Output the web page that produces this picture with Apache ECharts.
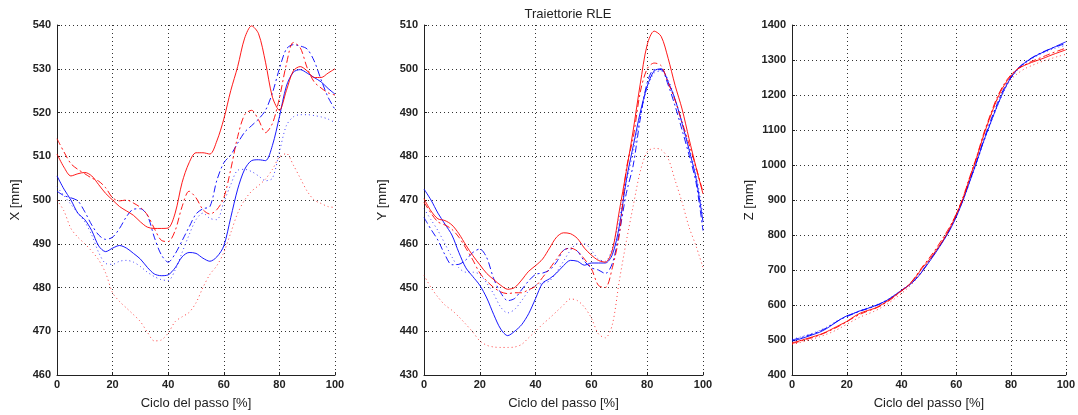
<!DOCTYPE html>
<html>
<head>
<meta charset="utf-8">
<script src="https://cdn.jsdelivr.net/npm/echarts@6/dist/echarts.min.js"></script>
<style>
html,body{margin:0;padding:0;background:#fff;}
#c{width:1078px;height:415px;}
</style>
</head>
<body>
<div id="c"></div>
<script>
// Percent of gait cycle
const xPct = [0,2.5,5,7.5,10,12.5,15,17.5,20,22.5,25,27.5,30,32.5,35,37.5,40,42.5,45,47.5,50,52.5,55,57.5,60,62.5,65,67.5,70,72.5,75,77.5,80,82.5,85,87.5,90,92.5,95,97.5,100];

// ---- X [mm] ----
const xRedSolid = [510.5,507.5,505.5,506,506.3,505.5,503.5,501.5,500,498.5,497.5,496.5,495,493.8,493.5,493.5,493.6,497,504,508.5,510.8,510.8,510.5,513.5,518.5,525,530.5,537,539.8,538,531.5,523.5,520.5,525,529.5,530.5,529.5,528,528,529,530];
const xRedDashDot = [514,511,508.3,507,506,505,504.3,502.8,500.5,499.8,500,499.3,498.3,496.6,493.5,490.8,490.5,493,498.5,502,500.5,497.8,496.8,497.8,500.5,507,514.5,519.5,520.5,518.3,515.4,517.5,523.3,531,536,534.8,530.2,527,525.6,524.5,524];
const xRedDotted = [500,497.5,493.5,491.5,490,488.3,486.3,483.3,478.8,476.8,475.3,473.8,472.2,469.8,467.8,468,469.6,472.2,473.3,474.3,476.5,480,483,485,488,492.5,497,500,502,503.3,504.8,507,509.8,510.6,508,505,502,500,499.2,498.5,498.3];
const xBlueSolid = [505.5,502.5,500,497,495.5,493,489.5,488.2,489,489.6,489,487.8,486.5,484.6,483.1,482.7,482.9,484.5,487,488,487.8,486.7,486,487,489.5,496,502.5,507,509,509.2,509,512.5,519,526,529.2,529.8,529,528,527,525.5,524.2];
const xBlueDashDot = [502,501,500.5,499.8,497.3,494.3,492,491,491.5,493.5,496.2,497.9,498,496.5,491.5,487.5,485.8,487.7,490.7,493.8,496.8,498,498.5,504.5,508.5,510.3,513,515.5,517,518.5,520.5,524.5,530,534.5,535.5,535.2,534.5,531.8,527.5,523.5,520.7];
const xBlueDotted = [503,501,499,497,495,492,488,485.5,485.3,486,486.2,485.8,484.8,483.5,482.5,481.8,481.6,484,488,492,495.5,497,495.8,495.5,499.5,503.5,506.8,507,506.5,505.5,504.4,505,511,517,519,519.5,519.5,519.3,519,518.5,517.7];

// ---- Y [mm] ----
const yRedSolid = [470.3,467.5,465.7,465.3,464.3,462.3,459.7,457.3,455.2,453.2,451.8,450.5,449.6,450,451.7,453.7,455,456.5,459,461.5,462.5,462.3,461.2,459,457.4,456.2,455.8,458.5,467.5,476.5,486,496.5,505.5,508.6,507.4,502.4,496.2,490.8,484,477.5,471.4];
const yRedDashDot = [469.5,467,465,464.3,463.3,461.5,459,456.3,453.3,451.5,450,449,448.6,448.8,448.8,449.5,450.3,452.3,454.3,456.5,458.5,459,458.3,456.5,454.3,450.5,450,454.5,462,477,484.3,494.6,500,501.3,500.7,496.8,492.8,487.8,482.8,477.5,471.8];
const yRedDotted = [452.8,450,447.8,446,444.8,443.3,441.6,439.8,437.8,436.8,436.4,436.3,436.3,436.4,437,438.5,440,441.6,443,444.5,446,447.4,447,445.5,443,439.4,438.5,441.5,451.5,460.5,468.7,476.5,481,481.8,481.5,479.5,474.5,469.5,463.8,459.5,454.5];
const yBlueSolid = [472.5,470,467,464.5,462,458,454.5,452.5,450.5,447.6,443.8,440.5,439,440,441.5,444,447.5,451,452,453.3,455,456.2,456,455.1,455.6,455.6,455.6,457.5,464,474.5,482.4,490,496,499.5,500,497,493,487.5,481.5,475,465];
const yBlueDashDot = [466,463.3,460.8,457.5,455.2,455.3,456.3,458,458.8,456.8,452,448.8,447,447.5,449.5,451.5,453,453.3,454,455.8,458.5,459,458.3,456,454.5,454,453.2,455.5,462.5,471.5,478,488.5,496.8,499.8,499.8,496.3,491.5,486,480.3,474,463];
const yBlueDotted = [468,465.5,463,460,457,454.5,453.5,453.5,453,451,448.5,445.5,444.2,445,447,449.2,450.5,451,451.5,453.5,456,458.5,460,460,458.5,456.5,456,459,466,474,481,489,495.5,499,499.5,497.5,493,488,482,476,466.5];

// ---- Z [mm] ----
const zRedSolid = [492,497,503,509,515,523,533,543,553,566,577,584,590,600,612,626,641,656,678,705,728,755,783,817,858,905,965,1022,1085,1140,1190,1228,1255,1275,1285,1293,1300,1307,1315,1322,1329];
const zRedDashDot = [490,495,501,507,514,522,531,541,552,564,574,582,589,598,610,624,640,656,680,708,733,760,790,822,860,908,967,1025,1090,1145,1195,1232,1258,1275,1286,1296,1304,1312,1320,1327,1334];
const zRedDotted = [487,492,497,503,509,516,524,534,545,556,566,574,582,592,604,618,633,650,670,695,722,752,783,820,862,910,968,1025,1085,1138,1185,1220,1245,1262,1275,1284,1292,1299,1305,1311,1316];
const zBlueSolid = [497,502,508,515,522,532,545,558,569,576,584,590,597,605,615,628,642,655,672,695,722,750,780,812,852,900,955,1010,1068,1120,1170,1215,1250,1275,1292,1305,1316,1325,1334,1343,1352];
const zBlueDashDot = [500,505,511,517,525,534,546,558,567,575,583,589,596,604,614,627,641,655,673,697,724,752,782,815,855,903,958,1013,1072,1126,1176,1220,1252,1276,1293,1306,1317,1326,1334,1341,1347];
const zBlueDotted = [502,507,513,519,527,536,548,559,568,576,584,591,598,606,616,629,643,657,674,698,725,752,781,813,853,900,953,1008,1065,1118,1168,1212,1247,1272,1290,1303,1314,1323,1331,1337,1342];

const yAxisNames = ['X [mm]','Y [mm]','Z [mm]'];
const yMins = [460,430,400];
const yMaxs = [540,510,1400];
const yIntervals = [10,10,100];
const xAxisName = 'Ciclo del passo [%]';
const titleText = 'Traiettorie RLE';

const panels = [
  [xRedSolid,xRedDashDot,xRedDotted,xBlueSolid,xBlueDashDot,xBlueDotted],
  [yRedSolid,yRedDashDot,yRedDotted,yBlueSolid,yBlueDashDot,yBlueDotted],
  [zRedSolid,zRedDashDot,zRedDotted,zBlueSolid,zBlueDashDot,zBlueDotted]
];
const colors = ['#ff0000','#ff0000','#ff0000','#0000ff','#0000ff','#0000ff'];
const dashes = ['solid',[7,3,2,3],[1,3],'solid',[7,3,2,3],[1,3]];

const gridPos = [
  {left:57, top:25, width:278, height:352},
  {left:424, top:25, width:279, height:352},
  {left:792, top:25, width:278, height:352}
];

const font = 'Liberation Sans, Arial, sans-serif';
const gridLine = {show:true, lineStyle:{color:'#333', type:[1,3], width:1}};

const xAxes = gridPos.map((g,i)=>({
  type:'value', gridIndex:i, min:0, max:100, interval:20,
  name:xAxisName, nameLocation:'middle', nameGap:22,
  nameTextStyle:{fontFamily:font, fontSize:13, color:'#222'},
  axisLine:{show:true, onZero:false, lineStyle:{color:'#222', width:1}},
  axisTick:{show:true, inside:true, length:3, lineStyle:{color:'#222'}},
  axisLabel:{fontFamily:font, fontSize:11, color:'#222', margin:4, fontWeight:'bold'},
  splitLine:gridLine
}));
const yAxes = gridPos.map((g,i)=>({
  type:'value', gridIndex:i, min:yMins[i], max:yMaxs[i], interval:yIntervals[i],
  name:yAxisNames[i], nameLocation:'middle', nameGap: i===2 ? 36 : 35,
  nameTextStyle:{fontFamily:font, fontSize:13, color:'#222'},
  axisLine:{show:true, lineStyle:{color:'#222', width:1}},
  axisTick:{show:true, inside:true, length:3, lineStyle:{color:'#222'}},
  axisLabel:{fontFamily:font, fontSize:11, color:'#222', margin:6, fontWeight:'bold',
    formatter:(v)=>String(v)},
  splitLine:gridLine
}));

const series = [];
panels.forEach((arrs,pi)=>{
  arrs.forEach((vals,si)=>{
    series.push({
      type:'line', xAxisIndex:pi, yAxisIndex:pi,
      data:xPct.map((x,k)=>[x, vals[k]]),
      showSymbol:false, smooth:0.3, silent:true,
      lineStyle:{color:colors[si], width:1, type:dashes[si], opacity: si%3===2 ? 0.75 : 0.9},
      z: si<3 ? 3 : 2
    });
  });
});

const chart = echarts.init(document.getElementById('c'), null, {renderer:'canvas'});
chart.setOption({
  animation:false,
  backgroundColor:'#fff',
  title:{text:titleText, left:563, top:3, textAlign:'center',
    textStyle:{fontFamily:font, fontSize:13, fontWeight:'normal', color:'#222'}},
  grid:gridPos,
  xAxis:xAxes,
  yAxis:yAxes,
  series:series
});
</script>
</body>
</html>
